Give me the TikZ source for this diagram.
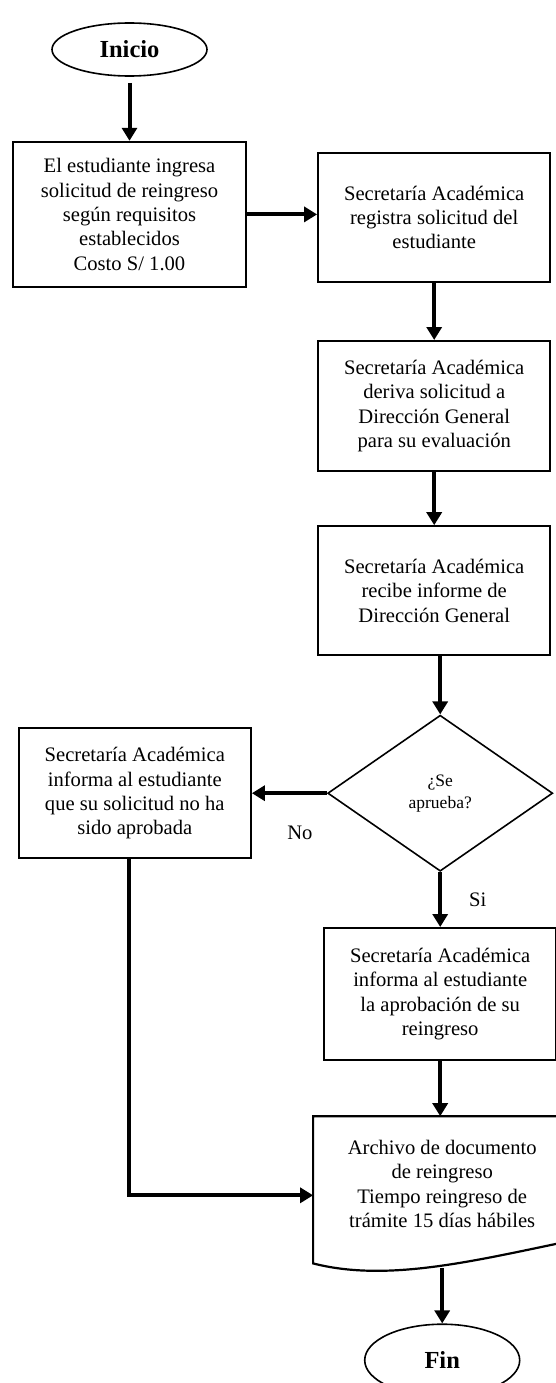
\documentclass[tikz,border=0pt]{standalone}
\usepackage{fontspec}
\setmainfont{Liberation Serif}
\usetikzlibrary{arrows.meta,positioning,shapes.geometric,calc}
\tikzset{
  >={Triangle[length=13pt,width=15pt]},
  block/.style={draw,line width=2.2pt,align=center,inner sep=0pt,minimum width=232pt,minimum height=130pt,font=\fontsize{20.6pt}{24.3pt}\selectfont},
  term/.style={draw,ellipse,line width=1.6pt,inner sep=0pt,minimum width=155pt,font=\fontsize{24.5pt}{29pt}\selectfont\bfseries},
  decision/.style={draw,diamond,line width=1.6pt,inner sep=0pt,minimum width=225pt,minimum height=156pt,align=center,font=\fontsize{17.5pt}{22pt}\selectfont},
  arrow/.style={->,line width=4pt},
  lbl/.style={inner sep=0pt,font=\fontsize{20.6pt}{24.3pt}\selectfont},
}

\begin{document}
\begin{tikzpicture}
		\useasboundingbox (0,0) rectangle (556pt,-1383pt);
		\node[term,minimum height=53pt] (inicio) at (129.5pt,-49.5pt) {Inicio};
		\node[block,minimum width=233pt,minimum height=145pt,below=64pt of inicio] (ingresa) {El estudiante ingresa\\solicitud de reingreso\\según requisitos\\establecidos\\Costo S/ 1.00};
		\node[block,minimum height=129pt,right=70pt of ingresa,yshift=-3pt] (registra) {Secretaría Académica\\registra solicitud del\\estudiante};
		\node[block,below=57pt of registra] (deriva) {Secretaría Académica\\deriva solicitud a\\Dirección General\\para su evaluación};
		\node[block,minimum height=129pt,below=53pt of deriva] (recibe) {Secretaría Académica\\recibe informe de\\Dirección General};
		\node[decision,below=58pt of recibe,xshift=6pt] (aprueba) {¿Se\\aprueba?};
		\node[block,left=75pt of aprueba] (noaprob) {Secretaría Académica\\informa al estudiante\\que su solicitud no ha\\sido aprobada};
		\node[block,minimum height=132pt,below=55pt of aprueba] (siaprob) {Secretaría Académica\\informa al estudiante\\la aprobación de su\\reingreso};
		\node[block,draw=none,minimum width=230pt,minimum height=133pt,below=55pt of siaprob,xshift=2pt] (archivo) {Archivo de documento\\de reingreso\\Tiempo reingreso de\\trámite 15 días hábiles};
		\node[term,minimum height=72pt,below=72pt of archivo] (fin) {Fin};
		% documento con borde ondulado
		\draw[line width=2.2pt] ([xshift=-13pt]archivo.north west) -- (archivo.north east) -- ([yshift=8pt]archivo.south east)
			.. controls ([xshift=-95pt,yshift=-12pt]archivo.south east) and ([xshift=-175pt,yshift=-30pt]archivo.south east) .. ([xshift=-13pt,yshift=-12pt]archivo.south west) -- cycle;
		\coordinate (entrada) at ([xshift=-13pt,yshift=-11.5pt]archivo.west);
		\draw[arrow,shorten <=6pt] (inicio) -- (ingresa);
		\draw[arrow] (ingresa.east) -- (ingresa.east -| registra.west);
		\draw[arrow] (registra) -- (deriva);
		\draw[arrow] (deriva) -- (recibe);
		\draw[arrow] (recibe.south -| aprueba) -- (aprueba);
		\draw[arrow] (aprueba) -- node[lbl,pos=0.36,below=31pt]{No} (noaprob);
		\draw[arrow] (aprueba) -- node[lbl,right=27pt]{Si} (siaprob);
		\draw[arrow] (siaprob.south) -- (siaprob.south |- archivo.north);
		\draw[arrow] ([xshift=-6pt]noaprob.south) |- (entrada);
		\draw[arrow] ([yshift=-17pt]archivo.south) -- (fin);
	\end{tikzpicture}
\end{document}
